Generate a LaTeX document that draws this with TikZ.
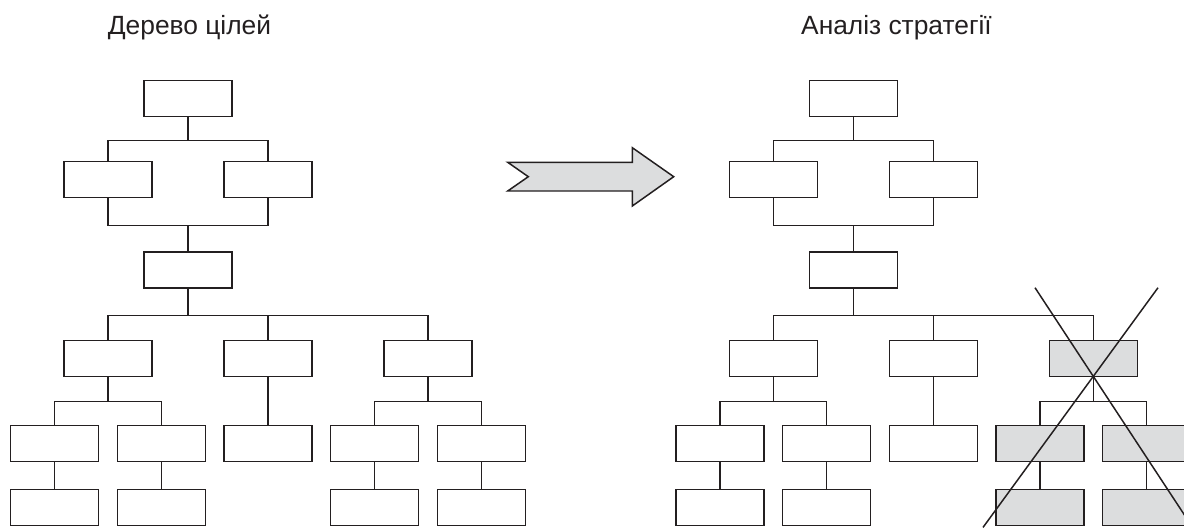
\documentclass[tikz,border=0pt]{standalone}
\usepackage{fontspec}
\setmainfont{Liberation Sans}
\usepackage{tikz}
\usetikzlibrary{positioning,calc}
\definecolor{ink}{HTML}{231F20}
\definecolor{cutgrey}{HTML}{DCDDDE}
\tikzset{
	goal/.style={minimum width=1.76cm,minimum height=0.72cm,inner sep=0pt,draw=ink,line width=0.85pt},
	link/.style={draw=ink,line width=0.85pt},
	heading/.style={anchor=base,text=ink,font=\fontsize{15}{17}\selectfont}
}

\begin{document}
\begin{tikzpicture}
		\useasboundingbox (0,0) rectangle (23.68,-10.54);
		\node[heading] (tree) at (3.79,-0.686) {Дерево цілей};
		\node[heading] (analysis) at (17.93,-0.686) {Аналіз стратегії};
		
		\foreach \t/\dx/\fc in {l/0/white,r/13.306/cutgrey}{
		\node[goal] (\t-top) at (\dx+3.76,-1.967) {};
		\node[goal,shift={(-1.6,-1.62)}] (\t-b1) at (\t-top) {};
		\node[goal,shift={(1.6,-1.62)}] (\t-b2) at (\t-top) {};
		\node[goal,shift={(0,-3.433)}] (\t-c) at (\t-top) {};
		\node[goal,shift={(-1.6,-1.767)}] (\t-d1) at (\t-c) {};
		\node[goal,shift={(1.6,-1.767)}] (\t-d2) at (\t-c) {};
		\node[goal,fill=\fc,shift={(4.8,-1.767)}] (\t-d3) at (\t-c) {};
		\node[goal,shift={(-1.067,-1.707)}] (\t-e1) at (\t-d1) {};
		\node[goal,shift={(1.067,-1.707)}] (\t-e2) at (\t-d1) {};
		\node[goal,shift={(0,-1.707)}] (\t-e3) at (\t-d2) {};
		\node[goal,fill=\fc,shift={(-1.067,-1.707)}] (\t-e4) at (\t-d3) {};
		\node[goal,fill=\fc,shift={(1.067,-1.707)}] (\t-e5) at (\t-d3) {};
		\node[goal,shift={(0,-1.28)}] (\t-f1) at (\t-e1) {};
		\node[goal,shift={(0,-1.28)}] (\t-f2) at (\t-e2) {};
		\node[goal,fill=\fc,shift={(0,-1.28)}] (\t-f4) at (\t-e4) {};
		\node[goal,fill=\fc,shift={(0,-1.28)}] (\t-f5) at (\t-e5) {};
		
		\draw[link] (\t-top.south) -- ++(0,-0.47) -| (\t-b1.north);
		\draw[link] (\t-top.south) -- ++(0,-0.47) -| (\t-b2.north);
		\draw[link] (\t-b1.south) -- ++(0,-0.55) -| (\t-b2.south);
		\draw[link] (\t-c.north) -- ++(0,0.535);
		\draw[link] (\t-c.south) -- ++(0,-0.53) -| (\t-d1.north);
		\draw[link] (\t-c.south) -- ++(0,-0.53) -| (\t-d2.north);
		\draw[link] (\t-c.south) -- ++(0,-0.53) -| (\t-d3.north);
		\draw[link] (\t-d1.south) -- ++(0,-0.49) -| (\t-e1.north);
		\draw[link] (\t-d1.south) -- ++(0,-0.49) -| (\t-e2.north);
		\draw[link] (\t-d2.south) -- (\t-e3.north);
		\draw[link] (\t-d3.south) -- ++(0,-0.49) -| (\t-e4.north);
		\draw[link] (\t-d3.south) -- ++(0,-0.49) -| (\t-e5.north);
		\draw[link] (\t-e1.south) -- (\t-f1.north);
		\draw[link] (\t-e2.south) -- (\t-f2.north);
		\draw[link] (\t-e4.south) -- (\t-f4.north);
		\draw[link] (\t-e5.south) -- (\t-f5.north);
		}
		
		% crossed out branch
		\draw[link] ($(r-d3.south)+(-1.166,1.788)$) -- ($(r-d3.south)+(1.986,-3.006)$);
		\draw[link] ($(r-d3.south)+(1.294,1.788)$) -- ($(r-d3.south)+(-2.206,-3.006)$);
		
		% big arrow
		\draw[link,fill=cutgrey,line join=miter] (10.154,-3.246) -- (12.646,-3.246) -- (12.646,-2.954) -- (13.474,-3.534) -- (12.646,-4.12) -- (12.646,-3.82) -- (10.154,-3.82) -- (10.566,-3.534) -- cycle;
	\end{tikzpicture}
\end{document}
